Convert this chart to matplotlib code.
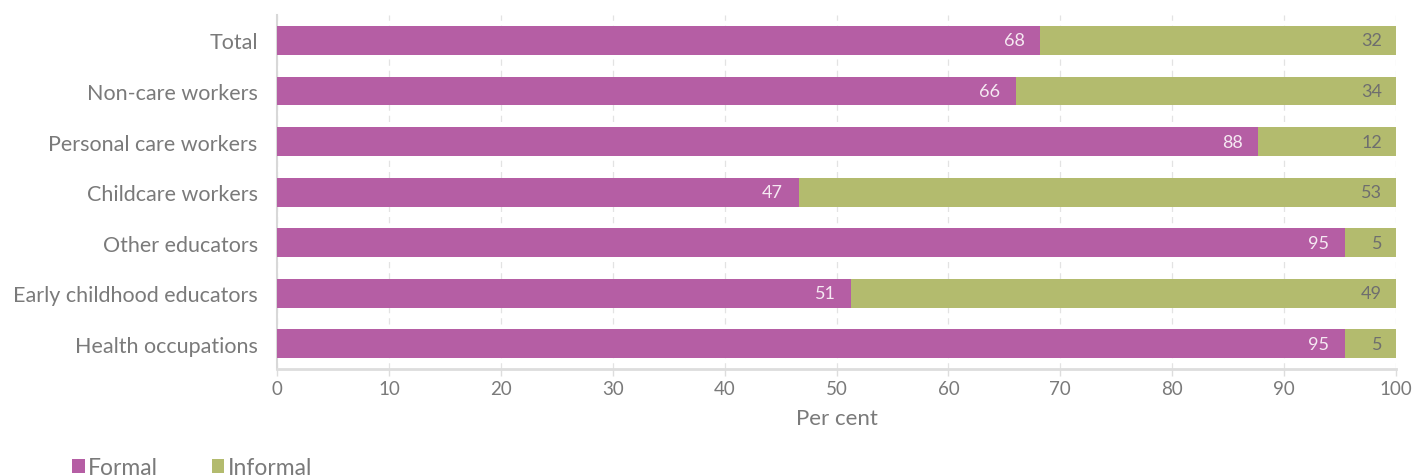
import matplotlib
matplotlib.use("Agg")
import matplotlib.pyplot as plt
import numpy as np

# Share of workers by formality status, per cent
categories = [
    "Total",
    "Non-care workers",
    "Personal care workers",
    "Childcare workers",
    "Other educators",
    "Early childhood educators",
    "Health occupations",
]
formal = [68.2, 66.0, 87.7, 46.6, 95.4, 51.3, 95.4]
informal = [31.8, 34.0, 12.3, 53.4, 4.6, 48.7, 4.6]
series_names = ["Formal", "Informal"]

FORMAL_C = "#b55ea4"
INFORMAL_C = "#b3bb6e"
TEXT_C = "#7a7a7a"

plt.rcParams["font.family"] = ["Lato", "DejaVu Sans"]

fig = plt.figure(figsize=(14.26, 4.77), dpi=100)
ax = fig.add_axes([0.1943, 0.224, 0.7847, 0.742])

y = np.arange(len(categories))
h = 0.57
ax.barh(y, formal, height=h, color=FORMAL_C, label=series_names[0], zorder=3)
ax.barh(y, informal, left=formal, height=h, color=INFORMAL_C,
        label=series_names[1], zorder=3)

for yi, f, i in zip(y, formal, informal):
    ax.annotate(f"{f:.0f}", (f, yi), xytext=(-11, 0), textcoords="offset points",
                ha="right", va="center", color="#f5e9f2", fontsize=13, zorder=4)
    ax.annotate(f"{i:.0f}", (f + i, yi), xytext=(-10, 0), textcoords="offset points",
                ha="right", va="center", color="#6e6e6e", fontsize=13, zorder=4)

ax.set_ylim(len(categories) - 0.5, -0.5)
ax.set_xlim(0, 100)
ax.set_xticks(np.arange(0, 101, 10))
ax.set_yticks(y)
ax.set_yticklabels(categories, fontsize=15.5, color=TEXT_C)
ax.tick_params(axis="y", length=0, pad=14)
ax.tick_params(axis="x", length=5, width=1, color="#dddddd", labelsize=13.5,
               labelcolor=TEXT_C, pad=3)

ax.grid(axis="x", color="#e3e3e3", linestyle=(0, (5, 4)), linewidth=0.9, zorder=0)
for side in ["top", "right"]:
    ax.spines[side].set_visible(False)
ax.spines["left"].set_color("#d8d8d8")
ax.spines["left"].set_linewidth(1.5)
ax.spines["bottom"].set_color("#dddddd")
ax.spines["bottom"].set_linewidth(2)

ax.set_xlabel("Per cent", fontsize=16, color=TEXT_C, labelpad=8)

leg = fig.legend(loc="lower left", bbox_to_anchor=(0.036, -0.048), ncol=2,
                 frameon=False, fontsize=16.5, handlelength=0.55, handleheight=0.55,
                 handletextpad=0.15, columnspacing=2.35, labelcolor=TEXT_C)

fig.savefig("out.png", dpi=100)
